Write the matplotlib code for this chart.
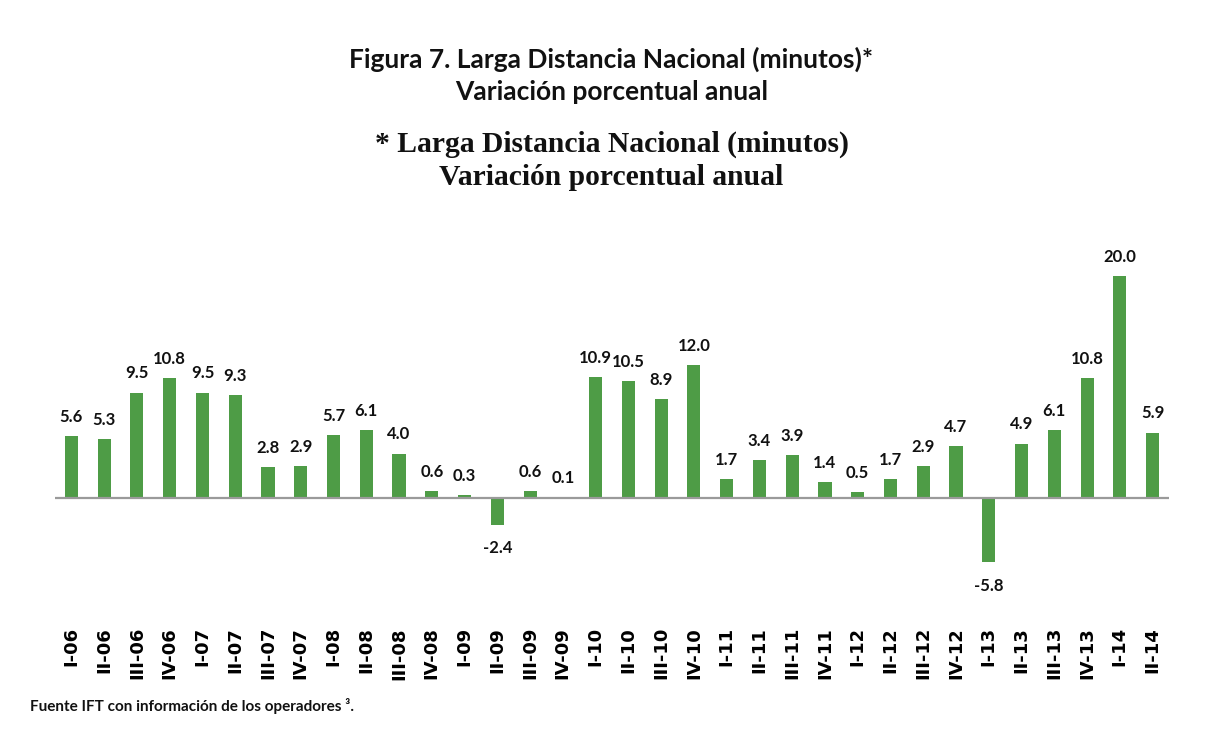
import matplotlib
matplotlib.use("Agg")
import matplotlib.pyplot as plt

categories = ["I-06", "II-06", "III-06", "IV-06", "I-07", "II-07", "III-07", "IV-07",
              "I-08", "II-08", "III-08", "IV-08", "I-09", "II-09", "III-09", "IV-09",
              "I-10", "II-10", "III-10", "IV-10", "I-11", "II-11", "III-11", "IV-11",
              "I-12", "II-12", "III-12", "IV-12", "I-13", "II-13", "III-13", "IV-13",
              "I-14", "II-14"]
values = [5.6, 5.3, 9.5, 10.8, 9.5, 9.3, 2.8, 2.9,
          5.7, 6.1, 4.0, 0.6, 0.3, -2.4, 0.6, 0.1,
          10.9, 10.5, 8.9, 12.0, 1.7, 3.4, 3.9, 1.4,
          0.5, 1.7, 2.9, 4.7, -5.8, 4.9, 6.1, 10.8,
          20.0, 5.9]

title1 = "Figura 7. Larga Distancia Nacional (minutos)*\nVariación porcentual anual"
title2 = "* Larga Distancia Nacional (minutos)\nVariación porcentual anual"
source = "Fuente IFT con información de los operadores ³."

bar_color = "#4E9C46"

fig = plt.figure(figsize=(12.23, 7.5), dpi=100)
n = len(categories)
# axes: x from 55px to 1169px, y zero at 498px, 11.1 px per unit
ymin, ymax = -8, 22
ppu = 11.1
top_px = 498 - ymax * ppu
bot_px = 498 - ymin * ppu
ax = fig.add_axes([55 / 1223, 1 - bot_px / 750, 1114 / 1223, (bot_px - top_px) / 750])

x = list(range(n))
ax.bar(x, values, width=0.40, color=bar_color, zorder=2)
ax.set_xlim(-0.5, n - 0.5)
ax.set_ylim(ymin, ymax)
ax.axhline(0, color="#9a9a9a", lw=1.6, zorder=3)

for s in ax.spines.values():
    s.set_visible(False)
ax.set_yticks([])
ax.set_xticks(x)
ax.set_xticklabels(categories, rotation=90, fontfamily="DejaVu Sans",
                   fontweight="bold", fontsize=13, va="top", ha="center")
ax.tick_params(axis="x", length=0, pad=(627 - bot_px) * 72 / 100)

for xi, v in zip(x, values):
    if v >= 0:
        ax.annotate(f"{v:.1f}", (xi, v), xytext=(0, 8), textcoords="offset points",
                    ha="center", va="bottom", fontfamily="Lato", fontweight="bold",
                    fontsize=12, color="#111111")
    else:
        ax.annotate(f"{v:.1f}", (xi, v), xytext=(0, -11), textcoords="offset points",
                    ha="center", va="top", fontfamily="Lato", fontweight="bold",
                    fontsize=12, color="#111111")

fig.text(0.5, 1 - 75.5 / 750, title1, ha="center", va="center", fontfamily="Lato",
         fontweight="bold", fontsize=19, linespacing=1.42, color="#111111")
fig.text(0.5, 1 - 161 / 750, title2, ha="center", va="center", fontfamily="Liberation Serif",
         fontweight="bold", fontsize=21.3, linespacing=1.29, color="#111111")
fig.text(30 / 1223, 1 - 706 / 750, source, ha="left", va="center", fontfamily="Lato",
         fontweight="bold", fontsize=11, color="#111111")

fig.savefig("out.png", dpi=100)
